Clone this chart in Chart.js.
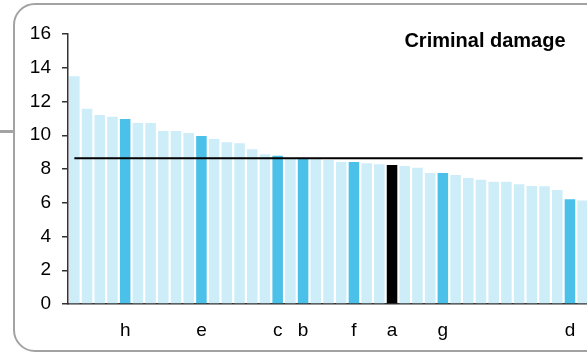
<!DOCTYPE html>
<html>
<head>
<meta charset="utf-8">
<script src="https://cdn.jsdelivr.net/npm/chart.js@4/dist/chart.umd.min.js"></script>
<style>
  html, body { margin: 0; padding: 0; background: #fff; overflow: hidden; width: 587px; height: 353px; }
  #frame { position: absolute; left: 13px; top: 3px; width: 600px; height: 349px; box-sizing: border-box;
           border: 2.5px solid #a3a3a3; border-radius: 22px; }
  #stub { position: absolute; left: 0; top: 130px; width: 15px; height: 3px; background: #a3a3a3; }
  #chart { position: absolute; left: 0; top: 0; }
</style>
</head>
<body>
<div id="frame"></div>
<div id="stub"></div>
<canvas id="chart" width="589" height="353"></canvas>
<script>
// data
const chartTitle = 'Criminal damage';
const labels = ['', '', '', '', 'h', '', '', '', '', '', 'e', '', '', '', '', '', 'c', '', 'b', '', '',
                '', 'f', '', '', 'a', '', '', '', 'g', '', '', '', '', '', '', '', '', '', 'd', ''];
const values = [13.5, 11.57, 11.2, 11.1, 10.96, 10.73, 10.73, 10.25, 10.25, 10.13, 9.95,
                9.78, 9.58, 9.52, 9.17, 8.87, 8.79, 8.6, 8.6, 8.58, 8.54,
                8.42, 8.42, 8.34, 8.28, 8.24, 8.18, 8.07, 7.77, 7.77, 7.65,
                7.47, 7.36, 7.24, 7.24, 7.1, 7.0, 6.98, 6.75, 6.21, 6.13];
const average = 8.64;
const yMin = 0, yMax = 16, yStep = 2;

const FONT = '"Liberation Sans", Arial, sans-serif';

// highlighted areas are dark blue, the selected one is black
const barColors = labels.map(l => l === 'a' ? '#000000' : (l ? '#4bc1ea' : '#cdedf9'));

const cornerTitle = {
  id: 'cornerTitle',
  afterDraw(chart) {
    const ctx = chart.ctx;
    ctx.save();
    ctx.font = 'bold 20px ' + FONT;
    ctx.fillStyle = '#000';
    ctx.textAlign = 'center';
    ctx.textBaseline = 'alphabetic';
    ctx.fillText(chartTitle, 485, 47);
    ctx.restore();
  }
};

new Chart(document.getElementById('chart').getContext('2d'), {
  data: {
    labels: labels,
    datasets: [
      {
        type: 'line',
        data: labels.map(() => average),
        borderColor: '#000',
        borderWidth: 2,
        pointRadius: 0,
        order: 0
      },
      {
        type: 'bar',
        data: values,
        backgroundColor: barColors,
        borderWidth: 0,
        barPercentage: 0.83,
        categoryPercentage: 1,
        order: 1
      }
    ]
  },
  options: {
    responsive: false,
    animation: false,
    layout: { padding: { top: 34, left: 0, right: 0, bottom: 0 } },
    plugins: {
      legend: { display: false },
      tooltip: { enabled: false }
    },
    scales: {
      x: {
        offset: true,
        grid: { display: false },
        border: { color: '#333', width: 1.5 },
        ticks: {
          autoSkip: false,
          maxRotation: 0,
          padding: 7,
          color: '#000',
          font: { family: FONT, size: 19 }
        },
        afterFit: s => { s.height = 49; s.paddingLeft = 0; s.paddingRight = 0; }
      },
      y: {
        min: yMin,
        max: yMax,
        grid: { drawOnChartArea: false, drawTicks: true, tickLength: 6, color: '#333', lineWidth: 1.5 },
        border: { color: '#333', width: 1.5 },
        ticks: {
          stepSize: yStep,
          padding: 11,
          color: '#000',
          font: { family: FONT, size: 19 }
        },
        afterFit: s => { s.width = 68; }
      }
    }
  },
  plugins: [cornerTitle]
});
</script>
</body>
</html>
